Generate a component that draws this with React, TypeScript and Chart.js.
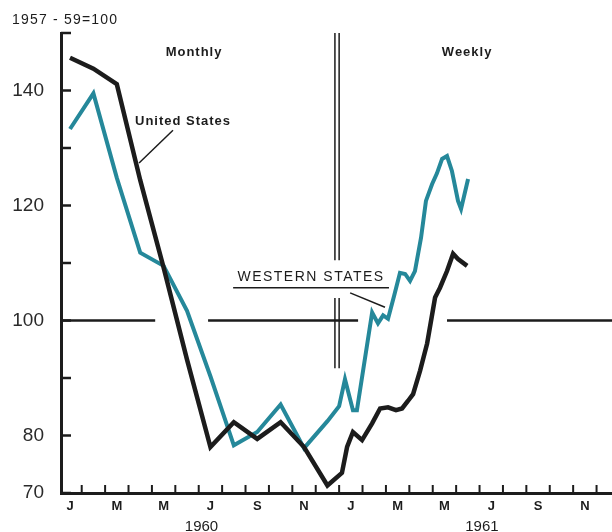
import React, { useEffect, useRef } from 'react';
import { Chart, registerables } from 'chart.js';

Chart.register(...registerables);

// ---- data ----
const monthLabels = ['J', 'M', 'M', 'J', 'S', 'N', 'J', 'M', 'M', 'J', 'S', 'N'];
const monthLabelPositions = [0, 2, 4, 6, 8, 10, 12, 14, 16, 18, 20, 22];
const yearLabels = ['1960', '1961'];
const yearLabelPositions = [5.62, 17.6];
const yTickValues = [70, 80, 90, 100, 110, 120, 130, 140, 150];
const yLabelled = [70, 80, 100, 120, 140];

const monthlyX = [0, 1, 2, 3, 4, 5, 6, 7, 8, 9, 10, 11];
const usMonthly = [145.7, 143.8, 141.1, 124.4, 109.2, 93.2, 78.0, 82.3, 79.4, 82.3, 78.0, 71.3];
const usWeeklyX = [11.62, 11.84, 12.09, 12.48, 12.91, 13.25, 13.59, 13.93, 14.19, 14.44, 14.66, 14.96, 15.26, 15.6, 15.81, 16.11, 16.37, 16.58, 16.97];
const usWeekly = [73.5, 78.0, 80.6, 79.2, 82.1, 84.7, 84.9, 84.4, 84.7, 86.0, 87.2, 91.3, 96.0, 104.0, 105.7, 108.6, 111.6, 110.7, 109.5];

const westMonthly = [133.3, 139.5, 124.8, 111.8, 109.5, 101.7, 90.3, 78.3, 80.6, 85.4, 77.8, 82.5];
const westWeeklyX = [11.5, 11.75, 12.09, 12.26, 12.91, 13.16, 13.38, 13.59, 13.85, 14.1, 14.32, 14.53, 14.74, 15.0, 15.21, 15.47, 15.68, 15.9, 16.11, 16.32, 16.58, 16.71, 17.01];
const westWeekly = [85.1, 89.8, 84.4, 84.4, 101.4, 99.5, 100.9, 100.3, 104.3, 108.3, 108.1, 106.9, 108.6, 114.4, 120.8, 123.7, 125.6, 128.1, 128.6, 126.0, 120.8, 119.4, 124.6];

const baseValue = 100;
const baseStarts = [-0.39, 5.9, 16.11];
const baseEnds = [3.64, 12.31, 23.2];

const X_MIN = -0.385;
const X_MAX = 23.16;
const Y_MIN = 70;
const Y_MAX = 150;

const INK = '#1c1c1c';
const TEAL = '#25889a';

function pts(xs: number[], ys: number[]) {
  return xs.map((x, i) => ({ x, y: ys[i] }));
}

const decorPlugin = {
  id: 'decor',
  afterDraw(chart: any) {
    const { ctx, chartArea } = chart;
    const xs = chart.scales.x;
    const ys = chart.scales.y;
    const P = (xv: number, yv: number) => [xs.getPixelForValue(xv), ys.getPixelForValue(yv)];
    ctx.save();
    ctx.strokeStyle = INK;
    ctx.fillStyle = INK;
    ctx.lineCap = 'butt';

    // x tick marks (month boundaries), pointing up
    ctx.lineWidth = 2;
    for (let i = 0; i < 23; i++) {
      const px = xs.getPixelForValue(i + 0.5);
      ctx.beginPath();
      ctx.moveTo(px, chartArea.bottom);
      ctx.lineTo(px, chartArea.bottom - 8);
      ctx.stroke();
    }
    // y tick marks pointing inward
    ctx.lineWidth = 2.5;
    for (const v of yTickValues) {
      const py = ys.getPixelForValue(v);
      ctx.beginPath();
      ctx.moveTo(chartArea.left, py);
      ctx.lineTo(chartArea.left + 10, py);
      ctx.stroke();
    }

    // double vertical divider
    ctx.lineWidth = 1.5;
    for (const xv of [11.32, 11.5]) {
      const segs = [[150, 110.5], [103.9, 91.7]];
      for (const [a, b] of segs) {
        const [x1, y1] = P(xv, a);
        const [, y2] = P(xv, b);
        ctx.beginPath();
        ctx.moveTo(x1, y1);
        ctx.lineTo(x1, y2);
        ctx.stroke();
      }
    }

    // texts
    ctx.textBaseline = 'middle';
    ctx.textAlign = 'left';
    ctx.font = '14px "Liberation Sans", Arial, sans-serif';
    (ctx as any).letterSpacing = '1.2px';
    ctx.fillText('1957 - 59=100', 12, 20);

    ctx.textAlign = 'center';
    ctx.font = 'bold 13px "Liberation Sans", Arial, sans-serif';
    (ctx as any).letterSpacing = '1px';
    let [tx, ty] = P(5.3, 146.7);
    ctx.fillText('Monthly', tx, ty);
    [tx, ty] = P(16.97, 146.7);
    ctx.fillText('Weekly', tx, ty);
    [tx, ty] = P(4.83, 134.7);
    ctx.fillText('United States', tx, ty);

    // US leader
    ctx.lineWidth = 1.5;
    let [a1, b1] = P(4.4, 133.1);
    let [a2, b2] = P(2.95, 127.4);
    ctx.beginPath();
    ctx.moveTo(a1, b1);
    ctx.lineTo(a2, b2);
    ctx.stroke();

    // Western States label
    ctx.font = '500 14px "Liberation Sans", Arial, sans-serif';
    (ctx as any).letterSpacing = '1.5px';
    [tx, ty] = P(10.3, 107.6);
    ctx.fillText('WESTERN STATES', tx, ty);
    ctx.lineWidth = 1.6;
    [a1, b1] = P(6.97, 105.7);
    [a2, b2] = P(13.63, 105.7);
    ctx.beginPath();
    ctx.moveTo(a1, b1);
    ctx.lineTo(a2, b2);
    ctx.stroke();
    ctx.lineWidth = 1.5;
    [a1, b1] = P(11.97, 104.8);
    [a2, b2] = P(13.46, 102.3);
    ctx.beginPath();
    ctx.moveTo(a1, b1);
    ctx.lineTo(a2, b2);
    ctx.stroke();

    // year labels
    ctx.font = '15px "Liberation Sans", Arial, sans-serif';
    (ctx as any).letterSpacing = '0px';
    ctx.textBaseline = 'top';
    yearLabels.forEach((lab, i) => {
      const px = xs.getPixelForValue(yearLabelPositions[i]);
      ctx.fillText(lab, px, chartArea.bottom + 26);
    });
    ctx.restore();
  },
};

export default function App() {
  const ref = useRef<HTMLCanvasElement | null>(null);

  useEffect(() => {
    if (!ref.current) return;
    const baseData: any[] = [];
    baseStarts.forEach((s, i) => {
      baseData.push({ x: s, y: baseValue });
      baseData.push({ x: baseEnds[i], y: baseValue });
      baseData.push({ x: baseEnds[i], y: null });
    });

    const chart = new Chart(ref.current, {
      type: 'line',
      data: {
        datasets: [
          {
            label: 'United States',
            data: [...pts(monthlyX, usMonthly), ...pts(usWeeklyX, usWeekly)],
            borderColor: INK,
            borderWidth: 4.5,
            pointRadius: 0,
            tension: 0,
            borderJoinStyle: 'miter',
          },
          {
            label: 'Western States',
            data: [...pts(monthlyX, westMonthly), ...pts(westWeeklyX, westWeekly)],
            borderColor: TEAL,
            borderWidth: 4,
            pointRadius: 0,
            tension: 0,
            borderJoinStyle: 'miter',
          },
          {
            label: 'base',
            data: baseData,
            borderColor: INK,
            borderWidth: 2.5,
            pointRadius: 0,
            tension: 0,
            spanGaps: false,
          },
        ],
      },
      options: {
        animation: false,
        responsive: false,
        devicePixelRatio: 1,
        layout: { padding: { top: 33, right: 0, left: 0, bottom: 0 } },
        plugins: { legend: { display: false }, tooltip: { enabled: false } },
        scales: {
          x: {
            type: 'linear',
            min: X_MIN,
            max: X_MAX,
            afterBuildTicks: (s: any) => {
              s.ticks = monthLabelPositions.map((v) => ({ value: v }));
            },
            afterFit: (s: any) => {
              s.height = 39;
            },
            ticks: {
              autoSkip: false,
              maxRotation: 0,
              padding: 6,
              color: INK,
              font: { family: '"Liberation Sans", Arial, sans-serif', size: 13, weight: 'bold' },
              callback: (v: any) => {
                const idx = monthLabelPositions.indexOf(Number(v));
                return idx >= 0 ? monthLabels[idx] : '';
              },
            },
            grid: { display: false, drawTicks: false },
            border: { display: true, color: INK, width: 3 },
          },
          y: {
            type: 'linear',
            min: Y_MIN,
            max: Y_MAX,
            afterBuildTicks: (s: any) => {
              s.ticks = yTickValues.map((v) => ({ value: v }));
            },
            afterFit: (s: any) => {
              s.width = 61;
            },
            ticks: {
              padding: 17,
              color: '#2a2a2a',
              font: { family: '"Liberation Sans", Arial, sans-serif', size: 19 },
              callback: (v: any) => (yLabelled.includes(Number(v)) ? String(v) : ''),
            },
            grid: { display: false, drawTicks: false },
            border: { display: true, color: INK, width: 3 },
          },
        },
      },
      plugins: [decorPlugin],
    } as any);
    return () => chart.destroy();
  }, []);

  return (
    <div style={{ position: 'absolute', left: 0, top: 0, width: 612, height: 532, background: '#fff' }}>
      <canvas ref={ref} width={612} height={532} />
    </div>
  );
}
